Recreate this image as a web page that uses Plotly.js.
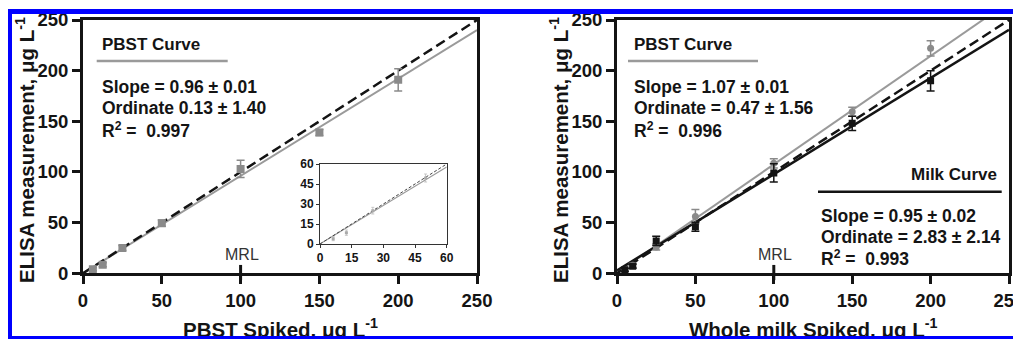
<!DOCTYPE html>
<html><head><meta charset="utf-8">
<script src="https://cdn.plot.ly/plotly-3.0.1.min.js"></script>
<style>
html,body{margin:0;padding:0;background:#fff;overflow:hidden}
#wrap{position:relative;width:1013px;height:339px;overflow:hidden}
#chart{position:absolute;left:0;top:0;width:1013px;height:339px}
#frame{position:absolute;left:8px;top:9px;width:1010px;height:322px;border-top:5px solid #0000ff;border-left:4px solid #0000ff;border-bottom:3px solid #0000ff;pointer-events:none}
</style></head>
<body>
<div id="wrap"><div id="chart"></div><div id="frame"></div></div>
<script>
// ---- data ----
const axisTicks = [0, 50, 100, 150, 200, 250];
const axisTickLabels = ['0', '50', '100', '150', '200', '250'];
const insetTicks = [0, 15, 30, 45, 60];
const insetTickLabels = ['0', '15', '30', '45', '60'];
const mrlX = [100];

// Left panel: PBST curve
const pbstX = [6.25, 12.5, 25, 50, 100, 150, 200];
const pbstY = [4, 8.5, 25, 49.5, 103, 139, 191];
const pbstErr = [1.5, 2, 2.5, 3, 8.5, 3, 11];

// Right panel: PBST curve (grey) and milk curve (black)
const milkX = [5, 10, 25, 50, 100, 150, 200];
const milkPbstY = [3, 8, 26, 56, 108.5, 159.5, 222];
const milkPbstErr = [1.5, 2, 3, 7, 4.5, 4.5, 7.5];
const milkY = [3.5, 7, 32, 46, 99, 148, 190];
const milkErr = [1.5, 2, 4.5, 4.5, 9, 7, 10];

// Regression results printed on the chart
const fitNames = ['PBST (left)', 'PBST (right)', 'Milk (right)'];
const slopes = [0.96, 1.07, 0.95];
const intercepts = [0.13, 0.47, 2.83];
const fitRange = [0, 250];
const insetRange = [0, 60];
const identityLine = [0, 250];

// ---- drawing ----
const FONT = 'Liberation Sans, Arial, Helvetica, sans-serif';
const INK = '#141414';
const GREY = '#9a9a9a';
const GREYM = '#8a8a8a';
const W = 1013, H = 339;
const px = v => v / W;
const py = v => 1 - v / H;
const bold = arr => arr.map(s => '<b>' + s + '</b>');

function fitY(i, xs) { return xs.map(x => slopes[i] * x + intercepts[i]); }

const traces = [
  // left panel
  {x: fitRange, y: fitY(0, fitRange), xaxis: 'x', yaxis: 'y', mode: 'lines', line: {color: GREY, width: 2}, name: fitNames[0]},
  {x: identityLine, y: identityLine, xaxis: 'x', yaxis: 'y', mode: 'lines', line: {color: INK, width: 2.5, dash: '10px,5px'}},
  {x: pbstX, y: pbstY, xaxis: 'x', yaxis: 'y', mode: 'markers', marker: {symbol: 'square', size: 8, color: GREYM},
   error_y: {type: 'data', array: pbstErr, color: GREYM, thickness: 1.5, width: 4}},
  // inset
  {x: insetRange, y: fitY(0, insetRange), xaxis: 'x3', yaxis: 'y3', mode: 'lines', line: {color: GREY, width: 1.2}},
  {x: insetRange, y: insetRange, xaxis: 'x3', yaxis: 'y3', mode: 'lines', line: {color: '#444', width: 1, dash: '3px,2px'}},
  {x: pbstX.filter(v => v <= 60), y: pbstY.filter((v, i) => pbstX[i] <= 60), xaxis: 'x3', yaxis: 'y3', mode: 'markers',
   marker: {symbol: 'square', size: 3, color: '#aaaaaa'},
   error_y: {type: 'data', array: pbstErr.filter((v, i) => pbstX[i] <= 60), color: '#bbbbbb', thickness: 0.8, width: 1.5}},
  // right panel
  {x: fitRange, y: fitY(1, fitRange), xaxis: 'x2', yaxis: 'y2', mode: 'lines', line: {color: GREY, width: 2}, name: fitNames[1]},
  {x: fitRange, y: fitY(2, fitRange), xaxis: 'x2', yaxis: 'y2', mode: 'lines', line: {color: INK, width: 2.5}, name: fitNames[2]},
  {x: identityLine, y: identityLine, xaxis: 'x2', yaxis: 'y2', mode: 'lines', line: {color: INK, width: 2.5, dash: '10px,5px'}},
  {x: milkX, y: milkPbstY, xaxis: 'x2', yaxis: 'y2', mode: 'markers', marker: {symbol: 'circle', size: 7, color: GREYM},
   error_y: {type: 'data', array: milkPbstErr, color: GREYM, thickness: 1.5, width: 4}},
  {x: milkX, y: milkY, xaxis: 'x2', yaxis: 'y2', mode: 'markers', marker: {symbol: 'square', size: 7, color: INK},
   error_y: {type: 'data', array: milkErr, color: INK, thickness: 1.5, width: 4}}
];

function mainAxis(domain, anchor) {
  return {domain: domain, anchor: anchor, range: [0, 250], tickmode: 'array', tickvals: axisTicks, ticktext: bold(axisTickLabels),
    ticks: 'outside', ticklen: 8, tickwidth: 3, tickcolor: INK, showline: true, linewidth: 3, linecolor: INK,
    mirror: true, showgrid: false, zeroline: false, ticklabeloverflow: 'allow',
    tickfont: {family: FONT, size: 18.5, color: INK}, fixedrange: true};
}
function insetAxis(domain, anchor) {
  return {domain: domain, anchor: anchor, range: [0, 60], tickmode: 'array', tickvals: insetTicks, ticktext: bold(insetTickLabels),
    ticks: 'outside', ticklen: 3, tickwidth: 1, tickcolor: '#333', showline: true, linewidth: 1, linecolor: '#333',
    mirror: true, showgrid: false, zeroline: false, ticklabeloverflow: 'allow',
    tickfont: {family: FONT, size: 12, color: INK}, fixedrange: true};
}

const yDom = [py(273.3), py(20)];
const layout = {
  width: W, height: H, autosize: false, showlegend: false,
  margin: {l: 0, r: 0, t: 0, b: 0, pad: 0},
  paper_bgcolor: '#ffffff', plot_bgcolor: '#ffffff',
  font: {family: FONT, color: INK},
  xaxis: mainAxis([px(83), px(477)], 'y'),
  yaxis: mainAxis(yDom, 'x'),
  xaxis2: mainAxis([px(617), px(1009)], 'y2'),
  yaxis2: mainAxis(yDom, 'x2'),
  xaxis3: insetAxis([px(320), px(446.7)], 'y3'),
  yaxis3: insetAxis([py(244), py(164)], 'x3'),
  shapes: [
    {type: 'line', xref: 'paper', yref: 'paper', x0: px(96.7), x1: px(227.7), y0: py(61), y1: py(61), line: {color: GREY, width: 2.5}},
    {type: 'line', xref: 'paper', yref: 'paper', x0: px(628), x1: px(758), y0: py(61), y1: py(61), line: {color: GREY, width: 2.5}},
    {type: 'line', xref: 'paper', yref: 'paper', x0: px(818), x1: px(1001.7), y0: py(191.7), y1: py(191.7), line: {color: INK, width: 2.5}},
    {type: 'line', xref: 'x', yref: 'y domain', x0: mrlX[0], x1: mrlX[0], y0: -0.027, y1: 0.033, line: {color: INK, width: 3}},
    {type: 'line', xref: 'x2', yref: 'y2 domain', x0: mrlX[0], x1: mrlX[0], y0: -0.027, y1: 0.033, line: {color: INK, width: 3}}
  ],
  annotations: []
};

function txt(text, x, y, opts) {
  opts = opts || {};
  layout.annotations.push(Object.assign({
    text: text, xref: 'paper', yref: 'paper', x: px(x), y: py(y), showarrow: false,
    xanchor: 'left', yanchor: 'middle', align: 'left',
    font: {family: FONT, size: 17.5, color: INK}
  }, opts));
}

// left panel texts
txt('<b>PBST Curve</b>', 100, 45, {font: {family: FONT, size: 17, color: INK}});
txt('<b>Slope = 0.96 ± 0.01</b>', 100, 87.3);
txt('<b>Ordinate 0.13 ± 1.40</b>', 100, 108.3);
txt('<b>R<sup>2</sup> =  0.997</b>', 100, 130);
txt('MRL', 241.7, 254, {xanchor: 'center', font: {family: FONT, size: 16, color: '#333'}});
// right panel texts
txt('<b>PBST Curve</b>', 632, 45, {font: {family: FONT, size: 17, color: INK}});
txt('<b>Slope = 1.07 ± 0.01</b>', 632, 87.3);
txt('<b>Ordinate = 0.47 ± 1.56</b>', 632, 108.3);
txt('<b>R<sup>2</sup> =  0.996</b>', 632, 130);
txt('<b>Milk Curve</b>', 999, 174, {xanchor: 'right', align: 'right', font: {family: FONT, size: 17, color: INK}});
txt('<b>Slope = 0.95 ± 0.02</b>', 819, 215.7);
txt('<b>Ordinate = 2.83 ± 2.14</b>', 819, 237.3);
txt('<b>R<sup>2</sup> =  0.993</b>', 819, 257.5);
txt('MRL', 775, 254, {xanchor: 'center', font: {family: FONT, size: 16, color: '#333'}});
// axis titles (cut by the frame at the bottom, as in the reference)
const titleFont = {family: FONT, size: 20.5, color: INK};
txt('<b>PBST Spiked, μg L<sup>-1</sup></b>', 280, 328, {xanchor: 'center', font: titleFont});
txt('<b>Whole milk Spiked, μg L<sup>-1</sup></b>', 813, 328, {xanchor: 'center', font: titleFont});
txt('<b>ELISA measurement, μg L<sup>-1</sup></b>', 25, 150, {xanchor: 'center', textangle: -90, font: titleFont});
txt('<b>ELISA measurement, μg L<sup>-1</sup></b>', 559, 150, {xanchor: 'center', textangle: -90, font: titleFont});

Plotly.newPlot('chart', traces, layout, {staticPlot: true, displayModeBar: false});
</script>
</body></html>
